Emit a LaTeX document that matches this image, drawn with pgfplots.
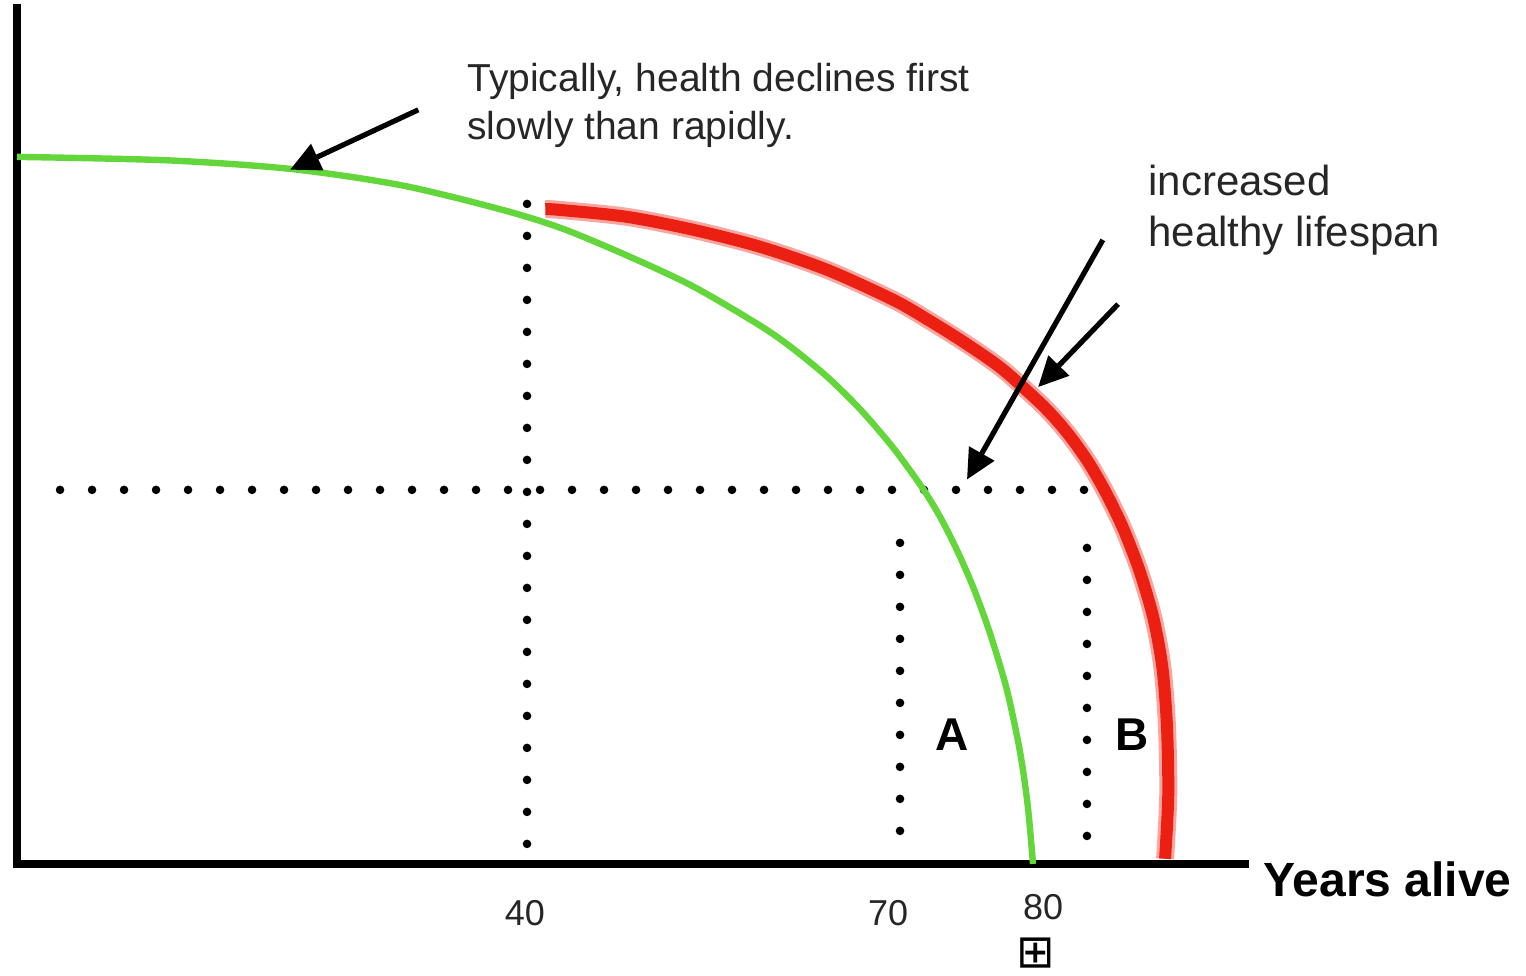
\documentclass[border=0pt]{standalone}
\usepackage{pgfplots}
\pgfplotsset{compat=1.18}
\usepackage{fontspec}
\setmainfont{Liberation Sans}
\newfontfamily\symfont{DejaVu Sans}
\usetikzlibrary{arrows.meta}
\definecolor{cgreen}{RGB}{98,214,58}
\definecolor{cred}{RGB}{236,32,18}
\pgfplotstableread{
x y
0 82.6
11.8 82.2
21.5 81.2
30.2 79.3
38.0 76.5
42.8 74.3
48.0 71.1
53.2 67.5
58.5 62.9
61.1 60.2
63.8 56.9
66.4 53.1
69.0 48.6
71.3 43.9
72.7 40.5
74.0 36.7
75.3 32.3
76.6 27.0
77.95 20.3
79.0 12.9
79.6 6.6
80.0 0
}\greendata
\pgfplotstableread{
x y
41.6 76.5
42.8 76.4
48.0 75.6
53.2 74.1
58.5 72.1
63.8 69.4
69.0 65.9
71.7 63.6
74.3 61.2
76.6 58.9
78.0 57.3
80.6 53.8
82.0 51.6
83.2 49.4
84.5 46.6
85.8 43.2
87.1 39.2
88.4 34.2
89.5 28.6
90.2 22.8
90.55 16.0
90.65 8.0
90.4 0.6
}\reddata
\begin{document}
\begin{tikzpicture}
\begin{axis}[
  scale only axis, width=614pt, height=428pt,
  xmin=0, xmax=96.69, ymin=0, ymax=100,
  axis lines=left,
  axis line style={-, line width=4pt, line cap=rect},
  ytick=\empty,
  xtick={40,68.6}, xticklabels={40,70},
  extra x ticks={80.8}, extra x tick labels={80},
  extra x tick style={tick label style={yshift=3pt}},
  major tick length=0pt,
  xticklabel style={font=\fontsize{18}{20}\selectfont, anchor=center, yshift=-24.5pt, inner sep=0pt, text=black!85},
  clip=false,
]
% dotted reference lines
\addplot[black, line width=4.3pt, line cap=round, dash pattern=on 0pt off 16pt] coordinates {(3.39,43.7) (84.1,43.7)};
\addplot[black, line width=4.3pt, line cap=round, dash pattern=on 0pt off 16pt] coordinates {(40.16,2.34) (40.16,77.2)};
\addplot[black, line width=4.3pt, line cap=round, dash pattern=on 0pt off 16pt] coordinates {(69.53,3.86) (69.53,41.2)};
\addplot[black, line width=4.3pt, line cap=round, dash pattern=on 0pt off 16pt] coordinates {(84.25,3.27) (84.25,40.62)};
% green curve
\addplot[cgreen, line width=3.2pt, smooth] table {\greendata};
% red curve (fuzzy)
\addplot[cred!40, line width=9pt, smooth] table {\reddata};
\addplot[cred, line width=6pt, smooth] table {\reddata};
% arrows
\draw[line width=2.6pt, -{Triangle[length=15pt,width=14pt]}] (axis cs:31.6,88.1) -- (axis cs:21.5,81.1);
\draw[line width=2.6pt, -{Triangle[length=15pt,width=14pt]}] (axis cs:85.5,72.9) -- (axis cs:74.8,44.9);
\draw[line width=2.6pt, -{Triangle[length=15pt,width=14pt]}] (axis cs:86.7,65.4) -- (axis cs:80.4,55.7);
% texts
\node[anchor=base west, inner sep=0pt, font=\fontsize{19.5}{23}\selectfont, text=black!85] at (axis cs:35.43,90.19) {Typically, health declines first};
\node[anchor=base west, inner sep=0pt, font=\fontsize{19.5}{23}\selectfont, text=black!85] at (axis cs:35.43,84.58) {slowly than rapidly.};
\node[anchor=base west, inner sep=0pt, font=\fontsize{21}{25}\selectfont, text=black!85] at (axis cs:89.06,78.04) {increased};
\node[anchor=base west, inner sep=0pt, font=\fontsize{21}{25}\selectfont, text=black!85] at (axis cs:89.06,72.08) {healthy lifespan};
\node[anchor=base west, inner sep=0pt, font=\fontsize{24}{28}\selectfont\bfseries] at (axis cs:98.11,-3.86) {Years alive};
\node[anchor=base west, inner sep=0pt, font=\fontsize{23}{27}\selectfont\bfseries] at (axis cs:72.28,13.2) {A};
\node[anchor=base west, inner sep=0pt, font=\fontsize{23}{27}\selectfont\bfseries] at (axis cs:86.46,13.2) {B};
\node[anchor=center, inner sep=0pt, font=\symfont\fontsize{23}{26}\selectfont] at (axis cs:80.24,-10.4) {⊞};
\coordinate (bbA) at (axis cs:-1.339,-13.08);
\coordinate (bbB) at (axis cs:118.82,100.93);
\end{axis}
\pgfresetboundingbox
\path (bbA) rectangle (bbB);
\end{tikzpicture}
\end{document}
